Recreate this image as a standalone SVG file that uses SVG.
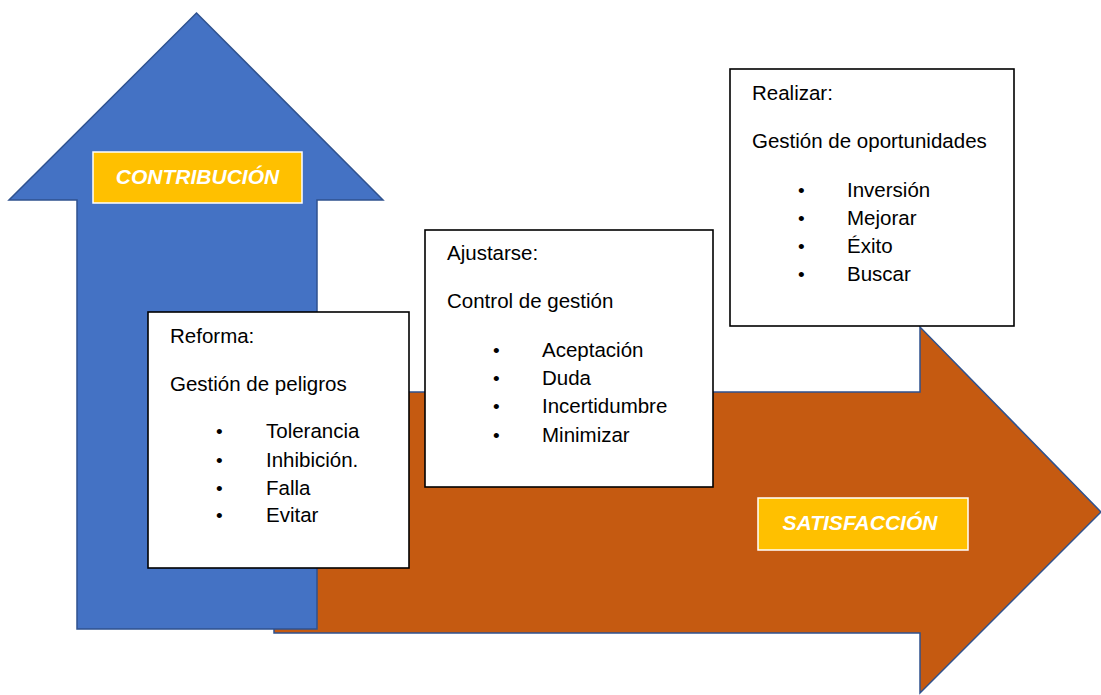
<svg xmlns="http://www.w3.org/2000/svg" width="1101" height="695" viewBox="0 0 1101 695">
<style>
.arrow{stroke:#2F528F;stroke-width:1.5;stroke-linejoin:miter}
.tag{fill:#FFC000;stroke:#FFFFFF;stroke-width:1.5}
.tagt{font-family:"Liberation Sans",Arial,sans-serif;font-size:21px;font-weight:bold;font-style:italic;fill:#FFFFFF}
.box{fill:#FFFFFF;stroke:#000000;stroke-width:1.6}
.t{font-family:"Liberation Sans",Arial,sans-serif;font-size:20.5px;fill:#000000}
.b{font-family:"Liberation Sans",Arial,sans-serif;font-size:19px;fill:#000000}
</style>
<rect width="1101" height="695" fill="#FFFFFF"/>
<g id="satisfaccion-arrow">
<polygon class="arrow" fill="#C55A11" points="274,392 920,392 920,327 1101,512 920,693 920,633 274,633"/>
<rect class="tag" x="758" y="498" width="210" height="52"/>
<text class="tagt" x="860" y="530" text-anchor="middle">SATISFACCIÓN</text>
</g>
<g id="contribucion-arrow">
<polygon class="arrow" fill="#4472C4" points="196.5,13 383,200 317,200 317,629 77,629 77,200 9,200"/>
<rect class="tag" x="93" y="152" width="209" height="51"/>
<text class="tagt" x="197.5" y="184" text-anchor="middle">CONTRIBUCIÓN</text>
</g>
<g id="reforma">
<rect class="box" x="148" y="312" width="261" height="256"/>
<text class="t" x="170" y="343">Reforma:</text>
<text class="t" x="170" y="391">Gestión de peligros</text>
<text class="b" x="216" y="438">•</text><text class="t" x="266" y="438">Tolerancia</text>
<text class="b" x="216" y="467">•</text><text class="t" x="266" y="467">Inhibición.</text>
<text class="b" x="216" y="495">•</text><text class="t" x="266" y="495">Falla</text>
<text class="b" x="216" y="522">•</text><text class="t" x="266" y="522">Evitar</text>
</g>
<g id="ajustarse">
<rect class="box" x="425" y="230" width="288" height="257"/>
<text class="t" x="447" y="260">Ajustarse:</text>
<text class="t" x="447" y="308">Control de gestión</text>
<text class="b" x="493" y="357">•</text><text class="t" x="542" y="357">Aceptación</text>
<text class="b" x="493" y="385">•</text><text class="t" x="542" y="385">Duda</text>
<text class="b" x="493" y="413">•</text><text class="t" x="542" y="413">Incertidumbre</text>
<text class="b" x="493" y="442">•</text><text class="t" x="542" y="442">Minimizar</text>
</g>
<g id="realizar">
<rect class="box" x="730" y="69" width="284" height="257"/>
<text class="t" x="752" y="100">Realizar:</text>
<text class="t" x="752" y="148">Gestión de oportunidades</text>
<text class="b" x="798" y="197">•</text><text class="t" x="847" y="197">Inversión</text>
<text class="b" x="798" y="225">•</text><text class="t" x="847" y="225">Mejorar</text>
<text class="b" x="798" y="253">•</text><text class="t" x="847" y="253">Éxito</text>
<text class="b" x="798" y="281">•</text><text class="t" x="847" y="281">Buscar</text>
</g>
<g id="connectors"></g>
</svg>
